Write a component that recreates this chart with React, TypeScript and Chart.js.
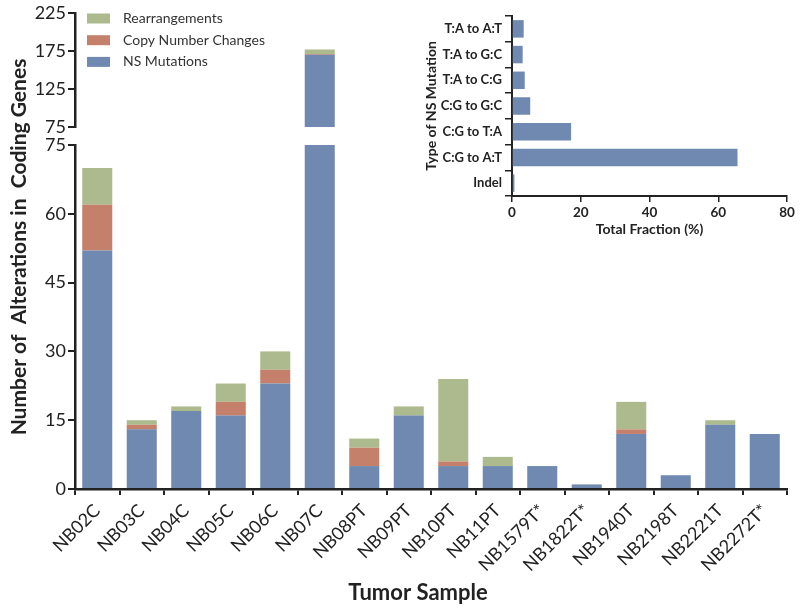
import React, { useEffect, useRef } from 'react';
import { Chart, registerables } from 'chart.js';

Chart.register(...registerables);

// ---------- data ----------
const samples = ['NB02C', 'NB03C', 'NB04C', 'NB05C', 'NB06C', 'NB07C', 'NB08PT', 'NB09PT', 'NB10PT', 'NB11PT', 'NB1579T*', 'NB1822T*', 'NB1940T', 'NB2198T', 'NB2221T', 'NB2272T*'];
const nsMutations = [52, 13, 17, 16, 23, 170, 5, 16, 5, 5, 5, 1, 12, 3, 14, 12];
const copyNumberChanges = [10, 1, 0, 3, 3, 1, 4, 0, 1, 0, 0, 0, 1, 0, 0, 0];
const rearrangements = [8, 1, 1, 4, 4, 6, 2, 2, 18, 2, 0, 0, 6, 0, 1, 0];
const lowerTicks = [0, 15, 30, 45, 60, 75];
const upperTicks = [75, 125, 175, 225];

const mutationTypes = ['T:A to A:T', 'T:A to G:C', 'T:A to C:G', 'C:G to G:C', 'C:G to T:A', 'C:G to A:T', 'Indel'];
const mutationFractions = [3.4, 3.1, 3.7, 5.3, 17.2, 65.6, 0.7];
const fractionTicks = [0, 20, 40, 60, 80];

// ---------- style ----------
const FONT = 'Lato, "Open Sans", sans-serif';
const INK = '#222222';
const BLUE = '#7089b1';
const RED = '#c4806a';
const GREEN = '#adba8e';

function mainDatasets() {
  return [
    { label: 'NS Mutations', data: nsMutations, backgroundColor: BLUE, clip: 0 },
    { label: 'Copy Number Changes', data: copyNumberChanges, backgroundColor: RED, clip: 0 },
    { label: 'Rearrangements', data: rearrangements, backgroundColor: GREEN, clip: 0 },
  ];
}

const axisGrid = { display: true, drawOnChartArea: false, drawTicks: true, tickLength: 7, color: INK, lineWidth: 2 };
const axisBorder = { display: true, color: INK, width: 2.5 };

const legendPlugin = {
  id: 'customLegend',
  afterDraw(chart: any) {
    const ctx = chart.ctx;
    const ds = chart.data.datasets.slice().reverse();
    ctx.save();
    ctx.font = `14px ${FONT}`;
    ctx.textBaseline = 'middle';
    ctx.textAlign = 'left';
    ds.forEach((d: any, i: number) => {
      const cy = 18.5 + i * 21.7;
      ctx.fillStyle = d.backgroundColor;
      ctx.fillRect(87, cy - 5, 23, 10);
      ctx.fillStyle = '#333333';
      ctx.fillText(d.label, 123, cy);
    });
    ctx.restore();
  },
};

const titlesPlugin = {
  id: 'mainTitles',
  afterDraw(chart: any) {
    const ctx = chart.ctx;
    ctx.save();
    ctx.fillStyle = INK;
    ctx.textAlign = 'center';
    ctx.textBaseline = 'middle';
    ctx.font = `bold 22px ${FONT}`;
    ctx.fillText('Tumor Sample', 418, 593);
    ctx.translate(19, 247);
    ctx.rotate(-Math.PI / 2);
    ctx.font = `bold 21px ${FONT}`;
    ctx.fillText('Number of  Alterations in  Coding Genes', 0, 0);
    ctx.restore();
  },
};

export default function App() {
  const lowerRef = useRef<HTMLCanvasElement>(null);
  const upperRef = useRef<HTMLCanvasElement>(null);
  const insetRef = useRef<HTMLCanvasElement>(null);

  useEffect(() => {
    const lower = new Chart(lowerRef.current as HTMLCanvasElement, {
      type: 'bar',
      data: { labels: samples, datasets: mainDatasets() as any },
      plugins: [titlesPlugin],
      options: {
        animation: false,
        responsive: false,
        maintainAspectRatio: false,
        layout: { padding: { left: 0, top: 145, right: 13, bottom: 0 } },
        datasets: { bar: { categoryPercentage: 1, barPercentage: 0.675 } } as any,
        plugins: { legend: { display: false }, tooltip: { enabled: false } },
        scales: {
          x: {
            stacked: true,
            offset: true,
            grid: { ...axisGrid, tickLength: 6 } as any,
            border: axisBorder as any,
            ticks: { font: { family: FONT, size: 18 }, color: INK, minRotation: 45, maxRotation: 45, autoSkip: false, padding: 5 },
            afterFit: (s: any) => { s.height = 612 - 489; },
          },
          y: {
            stacked: true,
            min: 0,
            max: 75,
            afterBuildTicks: (s: any) => { s.ticks = lowerTicks.map((v) => ({ value: v })); },
            grid: axisGrid as any,
            border: axisBorder as any,
            ticks: { font: { family: FONT, size: 18 }, color: INK, padding: 2 },
            afterFit: (s: any) => { s.width = 75; },
          },
        },
      },
    });

    const upper = new Chart(upperRef.current as HTMLCanvasElement, {
      type: 'bar',
      data: { labels: samples, datasets: mainDatasets() as any },
      plugins: [legendPlugin],
      options: {
        animation: false,
        responsive: false,
        maintainAspectRatio: false,
        layout: { padding: { left: 0, top: 13, right: 13, bottom: 612 - 127 } },
        datasets: { bar: { categoryPercentage: 1, barPercentage: 0.675 } } as any,
        plugins: { legend: { display: false }, tooltip: { enabled: false } },
        scales: {
          x: { display: false, stacked: true, offset: true },
          y: {
            stacked: true,
            min: 75,
            max: 225,
            afterBuildTicks: (s: any) => { s.ticks = upperTicks.map((v) => ({ value: v })); },
            grid: axisGrid as any,
            border: axisBorder as any,
            ticks: { font: { family: FONT, size: 18 }, color: INK, padding: 2 },
            afterFit: (s: any) => { s.width = 75; },
          },
        },
      },
    });

    const inset = new Chart(insetRef.current as HTMLCanvasElement, {
      type: 'bar',
      data: {
        labels: mutationTypes,
        datasets: [{ label: 'Total Fraction (%)', data: mutationFractions, backgroundColor: BLUE, clip: 0 } as any],
      },
      options: {
        indexAxis: 'y',
        animation: false,
        responsive: false,
        maintainAspectRatio: false,
        layout: { padding: { left: 400, top: 16, right: 13, bottom: 612 - 196 - 50 } },
        datasets: { bar: { categoryPercentage: 1, barPercentage: 0.68 } } as any,
        plugins: { legend: { display: false }, tooltip: { enabled: false } },
        scales: {
          x: {
            min: 0,
            max: 80,
            afterBuildTicks: (s: any) => { s.ticks = fractionTicks.map((v) => ({ value: v })); },
            grid: { ...axisGrid, tickLength: 6, lineWidth: 1.5 } as any,
            border: { display: true, color: INK, width: 2 } as any,
            ticks: { font: { family: FONT, size: 13.5, weight: 'bold' }, color: INK, padding: 3 },
            title: { display: true, text: 'Total Fraction (%)', font: { family: FONT, size: 14, weight: 'bold' }, color: INK, padding: { top: 0, bottom: 8 } },
            afterFit: (s: any) => { s.height = 50; },
          },
          y: {
            offset: true,
            grid: { ...axisGrid, tickLength: 7, lineWidth: 1.5 } as any,
            border: { display: true, color: INK, width: 2 } as any,
            ticks: { font: { family: FONT, size: 13, weight: 'bold' }, color: INK, padding: 3 },
            title: { display: true, text: 'Type of NS Mutation', font: { family: FONT, size: 14, weight: 'bold' }, color: INK, padding: { top: 23, bottom: 0 } },
            afterFit: (s: any) => { s.width = 112; },
          },
        },
      },
    });

    return () => {
      lower.destroy();
      upper.destroy();
      inset.destroy();
    };
  }, []);

  const cs: React.CSSProperties = { position: 'absolute', left: 0, top: 0, width: 800, height: 612 };
  return (
    <div style={{ position: 'absolute', left: 0, top: 0, width: 800, height: 612, background: '#ffffff' }}>
      <canvas ref={lowerRef} width={800} height={612} style={cs} />
      <canvas ref={upperRef} width={800} height={612} style={cs} />
      <canvas ref={insetRef} width={800} height={612} style={cs} />
    </div>
  );
}
